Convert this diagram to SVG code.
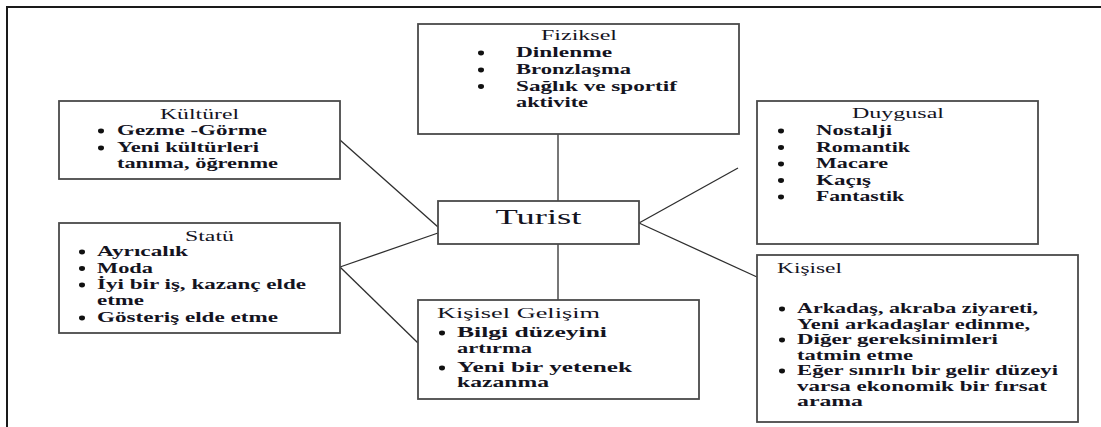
<svg xmlns="http://www.w3.org/2000/svg" width="1101" height="427" viewBox="0 0 1101 427">
  <style>
    .box { fill: #ffffff; stroke: #4a4a4a; stroke-width: 1.8; }
    .frame { fill: none; stroke: #1a1a1a; stroke-width: 2; }
    .link { fill: none; stroke: #2e2e2e; stroke-width: 1.3; }
    text { font-family: "Liberation Serif", "Times New Roman", serif; fill: #14141f; }
    .title { font-size: 15px; font-weight: normal; }
    .mid { text-anchor: middle; }
    .item { font-size: 14.5px; font-weight: bold; }
    .center { font-size: 21px; }
    .dot { fill: #111111; }
  </style>

  <!-- page frame (top and left edges) -->
  <path class="frame" d="M7,427 V7 H1101"/>

  <!-- connectors -->
  <g id="connectors">
    <line class="link" x1="558" y1="134" x2="558" y2="201"/>
    <line class="link" x1="558" y1="244" x2="558" y2="300"/>
    <line class="link" x1="340" y1="140" x2="438" y2="227"/>
    <line class="link" x1="340" y1="267" x2="438" y2="233"/>
    <line class="link" x1="340" y1="267" x2="418" y2="343"/>
    <line class="link" x1="639" y1="223" x2="738" y2="168"/>
    <line class="link" x1="639" y1="223" x2="757" y2="277"/>
  </g>

  <!-- central node -->
  <g id="turist">
    <rect class="box" x="438" y="201" width="201" height="43"/>
    <text class="center mid" x="538.5" y="224" textLength="86" lengthAdjust="spacingAndGlyphs">Turist</text>
  </g>

  <!-- Fiziksel -->
  <g id="fiziksel">
    <rect class="box" x="418" y="24" width="321" height="110"/>
    <text class="title mid" x="579" y="40" textLength="76" lengthAdjust="spacingAndGlyphs">Fiziksel</text>
    <ellipse class="dot" cx="481" cy="53" rx="3" ry="2.4"/>
    <ellipse class="dot" cx="481" cy="70" rx="3" ry="2.4"/>
    <ellipse class="dot" cx="481" cy="86.5" rx="3" ry="2.4"/>
    <text class="item" x="516" y="57" textLength="96" lengthAdjust="spacingAndGlyphs">Dinlenme</text>
    <text class="item" x="516" y="74" textLength="115" lengthAdjust="spacingAndGlyphs">Bronzlaşma</text>
    <text class="item" x="516" y="90.5" textLength="161" lengthAdjust="spacingAndGlyphs">Sağlık ve sportif</text>
    <text class="item" x="516" y="107" textLength="72" lengthAdjust="spacingAndGlyphs">aktivite</text>
  </g>

  <!-- Kültürel -->
  <g id="kulturel">
    <rect class="box" x="59" y="101" width="281" height="78"/>
    <text class="title mid" x="199.5" y="119" textLength="79" lengthAdjust="spacingAndGlyphs">Kültürel</text>
    <ellipse class="dot" cx="101" cy="131" rx="3" ry="2.4"/>
    <ellipse class="dot" cx="101" cy="148" rx="3" ry="2.4"/>
    <text class="item" x="117" y="135" textLength="150" lengthAdjust="spacingAndGlyphs">Gezme -Görme</text>
    <text class="item" x="117" y="152" textLength="142" lengthAdjust="spacingAndGlyphs">Yeni kültürleri</text>
    <text class="item" x="117" y="168" textLength="161" lengthAdjust="spacingAndGlyphs">tanıma, öğrenme</text>
  </g>

  <!-- Statü -->
  <g id="statu">
    <rect class="box" x="59" y="223" width="281" height="110"/>
    <text class="title mid" x="209.5" y="241" textLength="49" lengthAdjust="spacingAndGlyphs">Statü</text>
    <ellipse class="dot" cx="82" cy="252" rx="3" ry="2.4"/>
    <ellipse class="dot" cx="82" cy="268.5" rx="3" ry="2.4"/>
    <ellipse class="dot" cx="82" cy="285" rx="3" ry="2.4"/>
    <ellipse class="dot" cx="82" cy="318" rx="3" ry="2.4"/>
    <text class="item" x="97" y="256" textLength="91" lengthAdjust="spacingAndGlyphs">Ayrıcalık</text>
    <text class="item" x="97" y="272.5" textLength="56" lengthAdjust="spacingAndGlyphs">Moda</text>
    <text class="item" x="97" y="289" textLength="209" lengthAdjust="spacingAndGlyphs">İyi bir iş, kazanç elde</text>
    <text class="item" x="97" y="305" textLength="47" lengthAdjust="spacingAndGlyphs">etme</text>
    <text class="item" x="97" y="322" textLength="181" lengthAdjust="spacingAndGlyphs">Gösteriş elde etme</text>
  </g>

  <!-- Kişisel Gelişim -->
  <g id="kisisel-gelisim">
    <rect class="box" x="418" y="300" width="281" height="99"/>
    <text class="title" x="437" y="318" textLength="163" lengthAdjust="spacingAndGlyphs">Kişisel Gelişim</text>
    <ellipse class="dot" cx="442" cy="333" rx="3" ry="2.4"/>
    <ellipse class="dot" cx="442" cy="368" rx="3" ry="2.4"/>
    <text class="item" x="457" y="337" textLength="150" lengthAdjust="spacingAndGlyphs">Bilgi düzeyini</text>
    <text class="item" x="457" y="353" textLength="75" lengthAdjust="spacingAndGlyphs">artırma</text>
    <text class="item" x="457" y="372" textLength="175" lengthAdjust="spacingAndGlyphs">Yeni bir yetenek</text>
    <text class="item" x="457" y="387" textLength="92" lengthAdjust="spacingAndGlyphs">kazanma</text>
  </g>

  <!-- Duygusal -->
  <g id="duygusal">
    <rect class="box" x="757" y="101" width="281" height="143"/>
    <text class="title mid" x="898" y="118" textLength="92" lengthAdjust="spacingAndGlyphs">Duygusal</text>
    <ellipse class="dot" cx="781" cy="131" rx="3" ry="2.4"/>
    <ellipse class="dot" cx="781" cy="147.5" rx="3" ry="2.4"/>
    <ellipse class="dot" cx="781" cy="164" rx="3" ry="2.4"/>
    <ellipse class="dot" cx="781" cy="180.5" rx="3" ry="2.4"/>
    <ellipse class="dot" cx="781" cy="197" rx="3" ry="2.4"/>
    <text class="item" x="816" y="135" textLength="76" lengthAdjust="spacingAndGlyphs">Nostalji</text>
    <text class="item" x="816" y="151.5" textLength="94" lengthAdjust="spacingAndGlyphs">Romantik</text>
    <text class="item" x="816" y="168" textLength="72" lengthAdjust="spacingAndGlyphs">Macare</text>
    <text class="item" x="816" y="184.5" textLength="55" lengthAdjust="spacingAndGlyphs">Kaçış</text>
    <text class="item" x="816" y="201" textLength="88" lengthAdjust="spacingAndGlyphs">Fantastik</text>
  </g>

  <!-- Kişisel -->
  <g id="kisisel">
    <rect class="box" x="757" y="255" width="321" height="167"/>
    <text class="title" x="777" y="273" textLength="65" lengthAdjust="spacingAndGlyphs">Kişisel</text>
    <ellipse class="dot" cx="782" cy="309" rx="3" ry="2.4"/>
    <ellipse class="dot" cx="782" cy="340" rx="3" ry="2.4"/>
    <ellipse class="dot" cx="782" cy="371" rx="3" ry="2.4"/>
    <text class="item" x="797" y="313" textLength="241" lengthAdjust="spacingAndGlyphs">Arkadaş, akraba ziyareti,</text>
    <text class="item" x="797" y="328.5" textLength="233" lengthAdjust="spacingAndGlyphs">Yeni arkadaşlar edinme,</text>
    <text class="item" x="797" y="344" textLength="201" lengthAdjust="spacingAndGlyphs">Diğer gereksinimleri</text>
    <text class="item" x="797" y="359.5" textLength="116" lengthAdjust="spacingAndGlyphs">tatmin etme</text>
    <text class="item" x="797" y="375" textLength="261" lengthAdjust="spacingAndGlyphs">Eğer sınırlı bir gelir düzeyi</text>
    <text class="item" x="797" y="390.5" textLength="250" lengthAdjust="spacingAndGlyphs">varsa ekonomik bir fırsat</text>
    <text class="item" x="797" y="406" textLength="66" lengthAdjust="spacingAndGlyphs">arama</text>
  </g>
</svg>
